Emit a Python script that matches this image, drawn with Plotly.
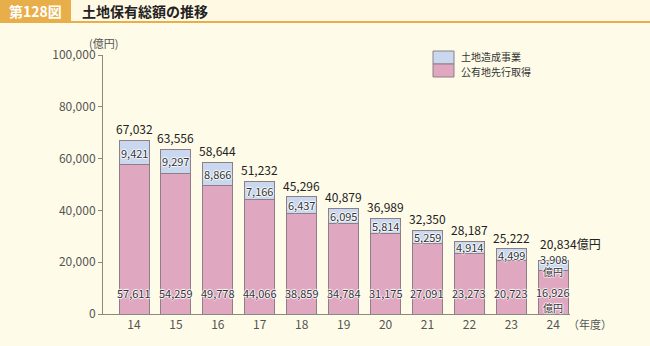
import plotly.graph_objects as go

# 年度 (平成)
years = ["14", "15", "16", "17", "18", "19", "20", "21", "22", "23", "24"]
# 公有地先行取得 (億円)
senko = [57611, 54259, 49778, 44066, 38859, 34784, 31175, 27091, 23273, 20723, 16926]
# 土地造成事業 (億円)
zosei = [9421, 9297, 8866, 7166, 6437, 6095, 5814, 5259, 4914, 4499, 3908]
y_ticks = [0, 20000, 40000, 60000, 80000, 100000]

W, H = 650, 346
ML, MR, MT, MB = 103, 80, 55, 32
PW, PH = W - ML - MR, H - MT - MB

PINK = "#DFA7C0"
BLUE = "#C9D8EF"
EDGE = "#8E7F86"
BG = "#FEFCE8"
TXT = "#333333"
FONT = "Noto Sans CJK JP"
HALO = "1px 0px 1px #fff, -1px 0px 1px #fff, 0px 1px 1px #fff, 0px -1px 1px #fff"


def px(x):
    return (x - ML) / PW


def py(y):
    return 1 - (y - MT) / PH


def note(x, y, text, size=11, color=TXT, xanchor="center", yanchor="middle", **kw):
    return dict(x=px(x), y=py(y), xref="paper", yref="paper", text=text,
                showarrow=False, xanchor=xanchor, yanchor=yanchor,
                font=dict(family=FONT, size=size, color=color), **kw)


xs = list(range(len(years)))
totals = [a + b for a, b in zip(senko, zosei)]
fmt = lambda v: f"{v:,}"

fig = go.Figure()
fig.add_trace(go.Bar(
    x=xs, y=senko, name="公有地先行取得", width=0.716,
    marker=dict(color=PINK, line=dict(color=EDGE, width=1)),
    showlegend=False, hoverinfo="skip",
))
fig.add_trace(go.Bar(
    x=xs, y=zosei, name="土地造成事業", width=0.716,
    marker=dict(color=BLUE, line=dict(color=EDGE, width=1)),
    showlegend=False, hoverinfo="skip",
))

label_font = dict(family=FONT, size=11, color=TXT, shadow=HALO)
unit_font = dict(family=FONT, size=10, color=TXT, shadow=HALO)
ann = []
last = len(years) - 1
for i in xs:
    is_last = i == last
    # total above the bar
    ann.append(dict(
        x=i, y=totals[i], xref="x", yref="y",
        text=fmt(totals[i]) + ("億円" if is_last else ""),
        showarrow=False, yanchor="bottom", yshift=6 if is_last else 1,
        xanchor="left" if is_last else "center",
        xshift=-15 if is_last else 0,
        font=dict(family=FONT, size=12, color="#222"),
    ))
    # 土地造成事業 value in the blue segment
    ann.append(dict(
        x=i, y=senko[i] + zosei[i] / 2, xref="x", yref="y",
        text=fmt(zosei[i]), showarrow=False,
        xanchor="center", yanchor="middle", yshift=6 if is_last else 0,
        font=label_font,
    ))
    # 公有地先行取得 value near the bar base
    ann.append(dict(
        x=i, y=0, xref="x", yref="y",
        text=fmt(senko[i]), showarrow=False,
        xanchor="center", yanchor="bottom", yshift=12 if is_last else 11,
        font=label_font,
    ))
    if is_last:
        ann.append(dict(x=i, y=senko[i] + zosei[i] / 2, xref="x", yref="y",
                        text="億円", showarrow=False, xanchor="center",
                        yanchor="middle", yshift=-6, font=unit_font))
        ann.append(dict(x=i, y=0, xref="x", yref="y",
                        text="億円", showarrow=False, xanchor="center",
                        yanchor="middle", yshift=7, font=unit_font))

# axis captions
ann.append(note(103, 43, "(億円)", color="#555"))
ann.append(note(566, 324, "（年度）", color="#555", xanchor="left"))

# header
shapes = [
    dict(type="rect", xref="paper", yref="paper", x0=px(0), x1=px(650), y0=py(23), y1=py(0),
         fillcolor="#E8AE4A", line=dict(width=0), layer="below"),
    dict(type="rect", xref="paper", yref="paper", x0=px(71), x1=px(650), y0=py(21), y1=py(0),
         fillcolor="#FFF9E4", line=dict(width=0), layer="below"),
]
ann.append(note(35, 11, "<b>第128図</b>", size=14, color="white"))
ann.append(note(80, 11, "<b>土地保有総額の推移</b>", size=14, color="#222", xanchor="left"))

# legend
legend_items = [("土地造成事業", BLUE), ("公有地先行取得", PINK)]
for k, (label, col) in enumerate(legend_items):
    top = 51 + 13 * k
    shapes.append(dict(type="rect", xref="paper", yref="paper",
                       x0=px(433), x1=px(454), y0=py(top + 13), y1=py(top),
                       fillcolor=col, line=dict(color=EDGE, width=1)))
    ann.append(note(459, 56 + 15 * k, label, size=10, color="#333", xanchor="left"))

fig.update_layout(
    barmode="stack",
    width=W, height=H,
    margin=dict(l=ML, r=MR, t=MT, b=MB, pad=0),
    paper_bgcolor=BG, plot_bgcolor=BG,
    annotations=ann, shapes=shapes,
    font=dict(family=FONT),
    xaxis=dict(
        range=[-0.74, 10.4], tickvals=xs, ticktext=years,
        showline=True, linecolor="#8a8a80", linewidth=1,
        ticks="", showgrid=False, zeroline=False,
        tickfont=dict(family=FONT, size=12, color="#555"),
    ),
    yaxis=dict(
        range=[0, 100000], tickvals=y_ticks, tickformat=",",
        showline=True, linecolor="#8a8a80", linewidth=1,
        ticks="outside", ticklen=4, tickcolor="#8a8a80",
        showgrid=False, zeroline=False,
        tickfont=dict(family=FONT, size=12, color="#555"),
    ),
)

fig.write_html("out.html")
